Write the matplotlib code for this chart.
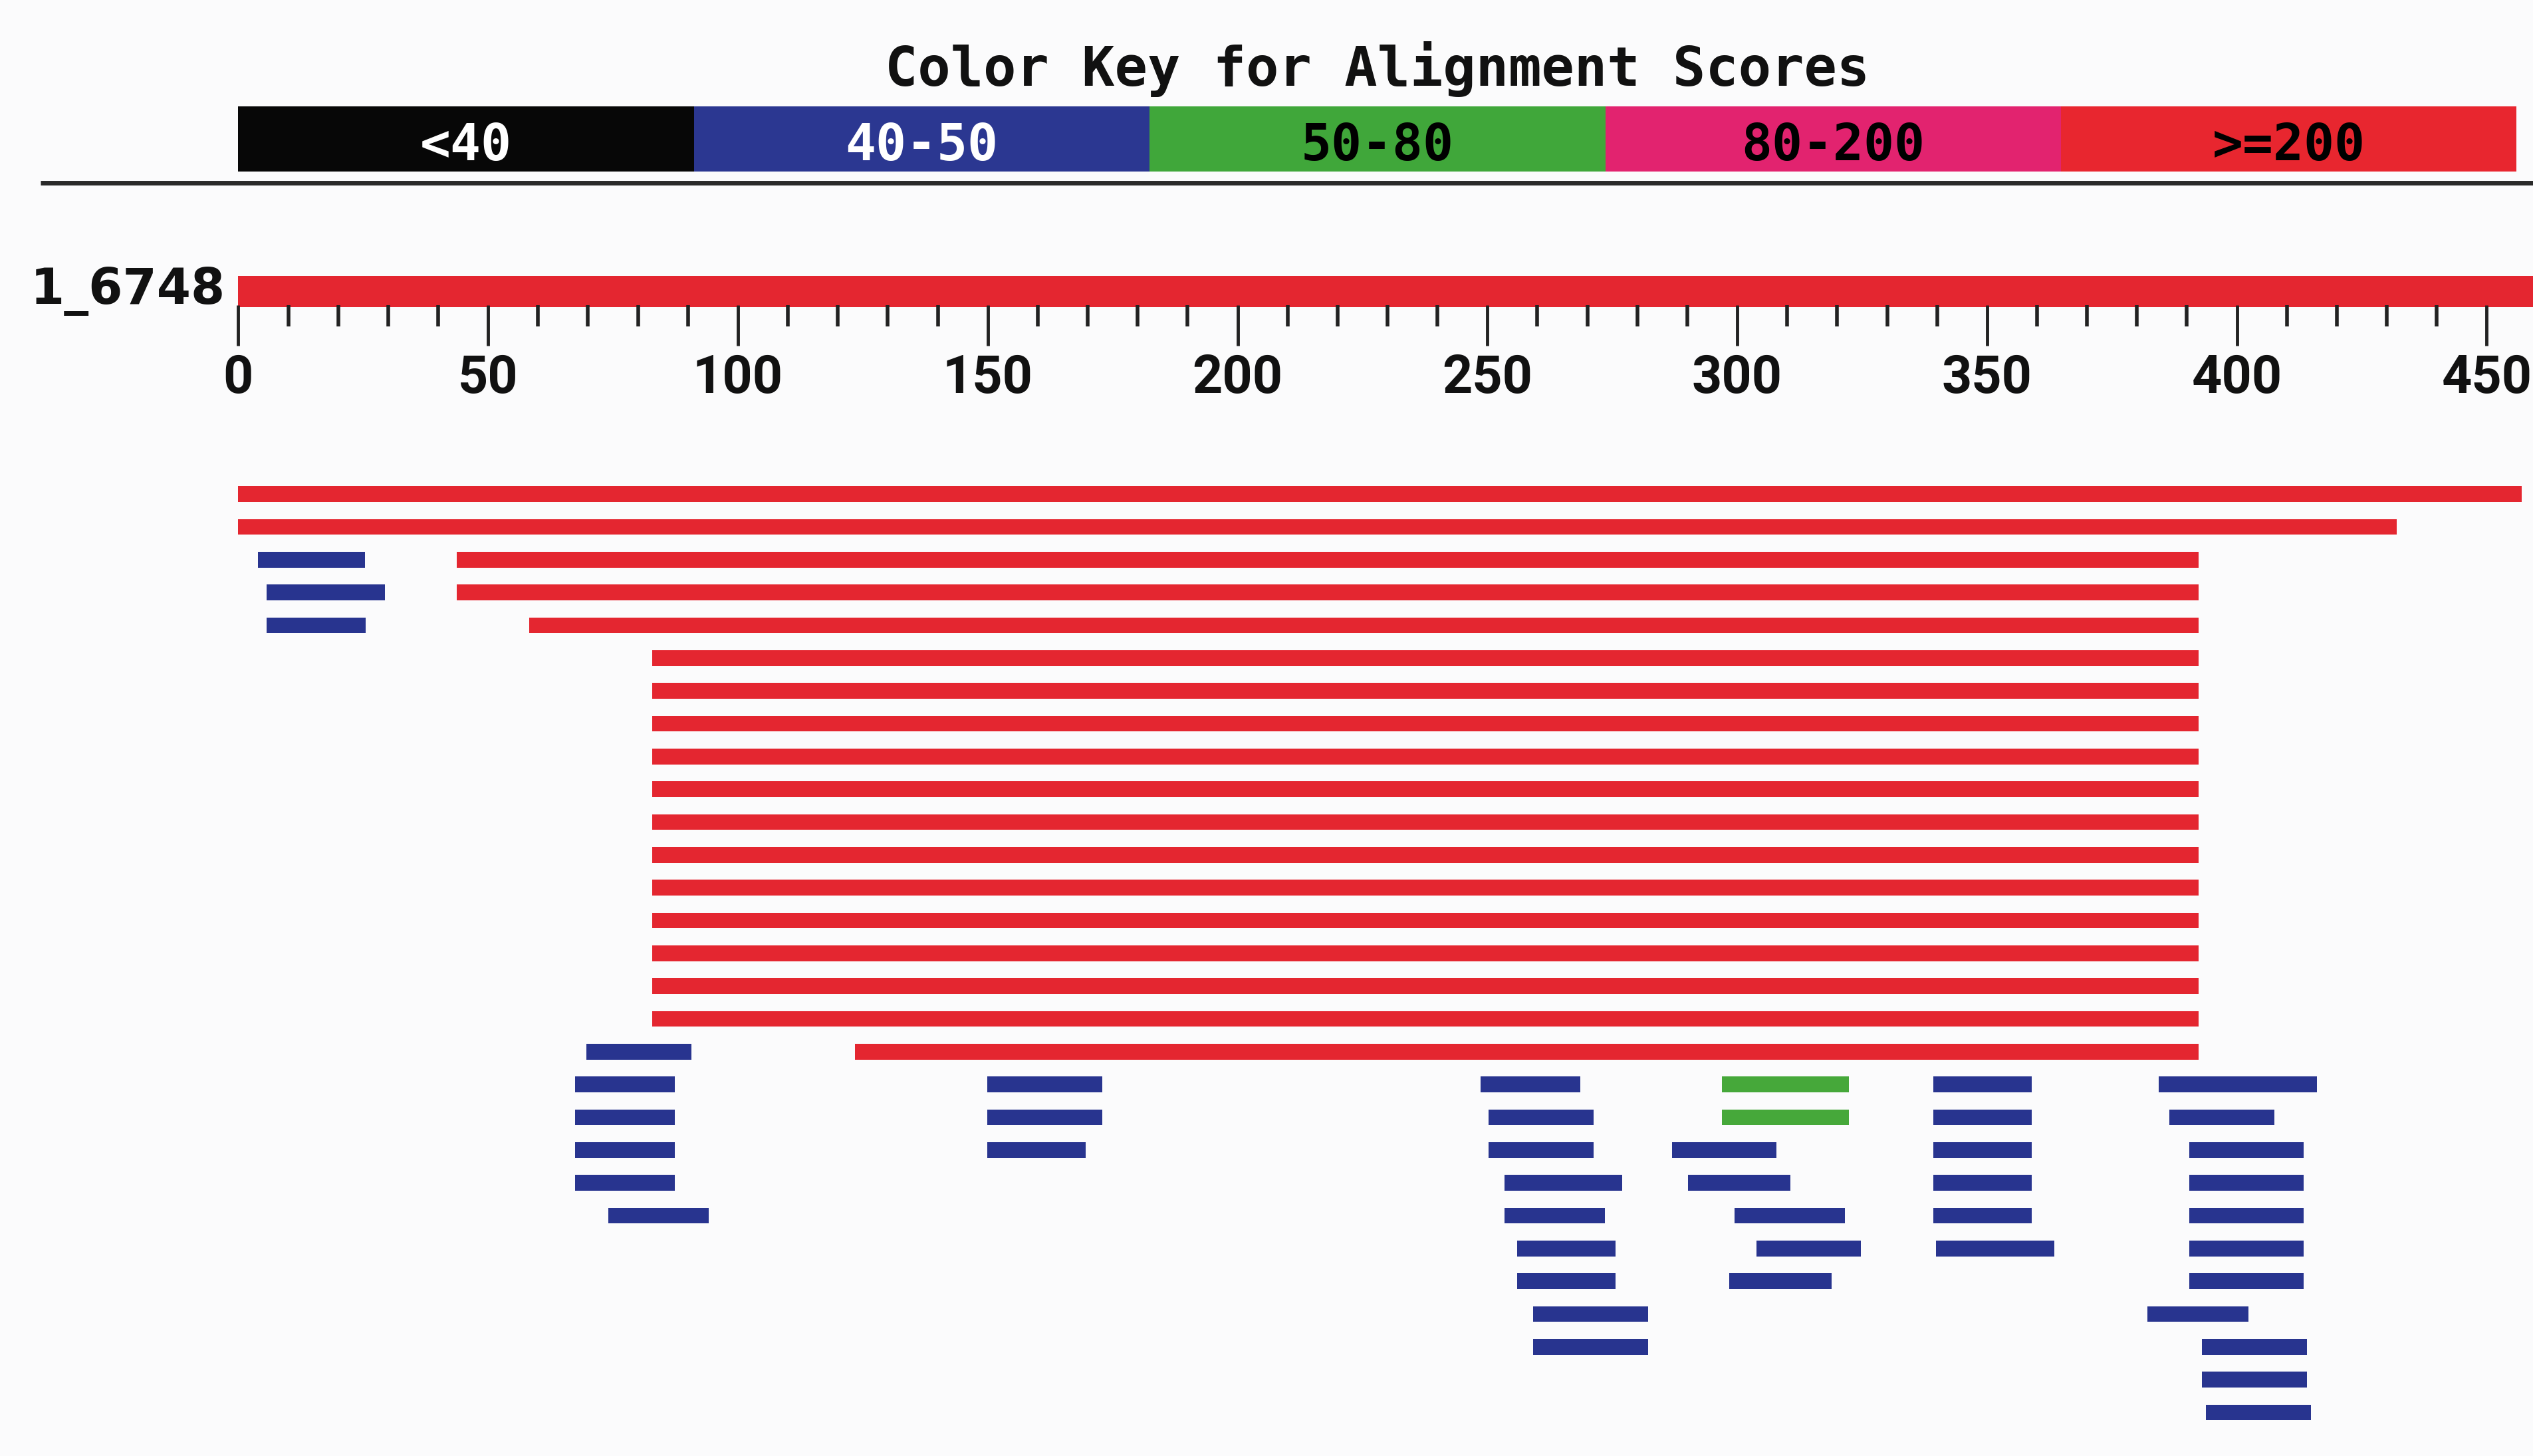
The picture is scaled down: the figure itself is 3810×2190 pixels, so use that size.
import matplotlib
matplotlib.use("Agg")
import matplotlib.pyplot as plt

# colour key for alignment scores
key_labels = ["<40", "40-50", "50-80", "80-200", ">=200"]
key_colors = ["#070707", "#2b3791", "#40a73a", "#e2236f", "#e8262f"]
key_text = ["white", "white", "black", "black", "black"]
key_span = 456

query_name = "1_6748"
query_len = 460
tick_major = [0, 50, 100, 150, 200, 250, 300, 350, 400, 450]
tick_minor = [10, 20, 30, 40, 60, 70, 80, 90, 110, 120, 130, 140, 160, 170, 180, 190,
              210, 220, 230, 240, 260, 270, 280, 290, 310, 320, 330, 340, 360, 370,
              380, 390, 410, 420, 430, 440]

# hits: row, start, end, score class (index into key)
hit_row = [0, 1,
           2, 2, 3, 3, 4, 4,
           5, 6, 7, 8, 9, 10, 11, 12, 13, 14, 15, 16,
           17, 17,
           18, 18, 18, 18, 18, 18,
           19, 19, 19, 19, 19, 19,
           20, 20, 20, 20, 20, 20,
           21, 21, 21, 21, 21,
           22, 22, 22, 22, 22,
           23, 23, 23, 23,
           24, 24, 24,
           25, 25,
           26, 26,
           27, 28]
hit_start = [0, 0,
             4.0, 43.7, 5.7, 43.7, 5.7, 58.2,
             82.8, 82.8, 82.8, 82.8, 82.8, 82.8, 82.8, 82.8, 82.8, 82.8, 82.8, 82.8,
             69.7, 123.4,
             67.4, 149.9, 248.6, 296.9, 339.2, 384.3,
             67.4, 149.9, 250.2, 296.9, 339.2, 386.5,
             67.4, 149.9, 250.2, 286.9, 339.2, 390.5,
             67.4, 253.4, 290.2, 339.2, 390.5,
             74.1, 253.4, 299.4, 339.2, 390.5,
             255.9, 303.9, 339.8, 390.5,
             255.9, 298.4, 390.5,
             259.2, 382.1,
             259.2, 393.0,
             393.0, 393.8]
hit_end = [457, 432,
           25.4, 392.3, 29.4, 392.3, 25.5, 392.3,
           392.3, 392.3, 392.3, 392.3, 392.3, 392.3, 392.3, 392.3, 392.3, 392.3, 392.3, 392.3,
           90.7, 392.3,
           87.3, 172.9, 268.6, 322.3, 359.0, 416.0,
           87.3, 172.9, 271.2, 322.3, 359.0, 407.5,
           87.3, 169.6, 271.2, 307.8, 359.0, 413.3,
           87.3, 277.0, 310.7, 359.0, 413.3,
           94.1, 273.5, 321.5, 359.0, 413.3,
           275.7, 324.8, 363.5, 413.3,
           275.7, 318.9, 413.3,
           282.2, 402.3,
           282.2, 414.0,
           414.0, 414.8]
hit_cls = [4, 4,
           1, 4, 1, 4, 1, 4,
           4, 4, 4, 4, 4, 4, 4, 4, 4, 4, 4, 4,
           1, 4,
           1, 1, 1, 2, 1, 1,
           1, 1, 1, 2, 1, 1,
           1, 1, 1, 1, 1, 1,
           1, 1, 1, 1, 1,
           1, 1, 1, 1, 1,
           1, 1, 1, 1,
           1, 1, 1,
           1, 1,
           1, 1,
           1, 1]

hit_colors = ["#070707", "#28348f", "#46a83a", "#e2236f", "#e42630"]


def py(y):
    # vertical layout: reference pixel row (901 px tall view) -> hit-row units
    return (y - 305.7) / 20.3


bg = "#fbfbfc"
fig = plt.figure(figsize=(38.1, 21.9), dpi=100, facecolor=bg)
ax = fig.add_axes([0, 0, 1, 1])
ax.set_facecolor(bg)
ax.set_xlim(-147.5 / 3.093, (1568 - 147.5) / 3.093)
ax.set_ylim(py(901), py(0))
ax.set_axis_off()

mono = dict(family="DejaVu Sans Mono", weight="bold")
sans = dict(family="DejaVu Sans", weight="bold")
narrow = dict(family=["Roboto", "DejaVu Sans"], weight="bold")

# colour key
ax.text(key_span / 2, py(53), "Color Key for Alignment Scores", ha="center",
        va="baseline", size=59, color="#111111", **mono)
seg_w = key_span / len(key_labels)
for i, (lab, col, tc) in enumerate(zip(key_labels, key_colors, key_text)):
    ax.barh(py(86), seg_w, left=i * seg_w, height=py(106) - py(66), color=col,
            linewidth=0)
    ax.text(i * seg_w + seg_w / 2, py(99), lab, ha="center", va="baseline",
            size=55, color=tc, **mono)
ax.hlines(py(113), -39.6, 470, color="#2a2a2a", linewidth=5)

# query bar with ruler
ax.barh(py(180.3), query_len, left=0, height=py(190) - py(170.5),
        color=hit_colors[4], linewidth=0)
ax.text(-2.6, py(188), query_name, ha="right", va="baseline", size=53,
        color="#111111", **sans)
ax.vlines(tick_major, py(189), py(214), color="#222222", linewidth=3.5)
ax.vlines(tick_minor, py(189), py(202), color="#222222", linewidth=4)
for t in tick_major:
    ax.text(t, py(243), str(t), ha="center", va="baseline", size=57,
            color="#111111", **narrow)

# hits
widths = [e - s for s, e in zip(hit_start, hit_end)]
colors = [hit_colors[c] for c in hit_cls]
ax.barh(hit_row, widths, left=hit_start, height=0.48, color=colors, linewidth=0)

fig.savefig("out.png", dpi=100, facecolor=bg)
